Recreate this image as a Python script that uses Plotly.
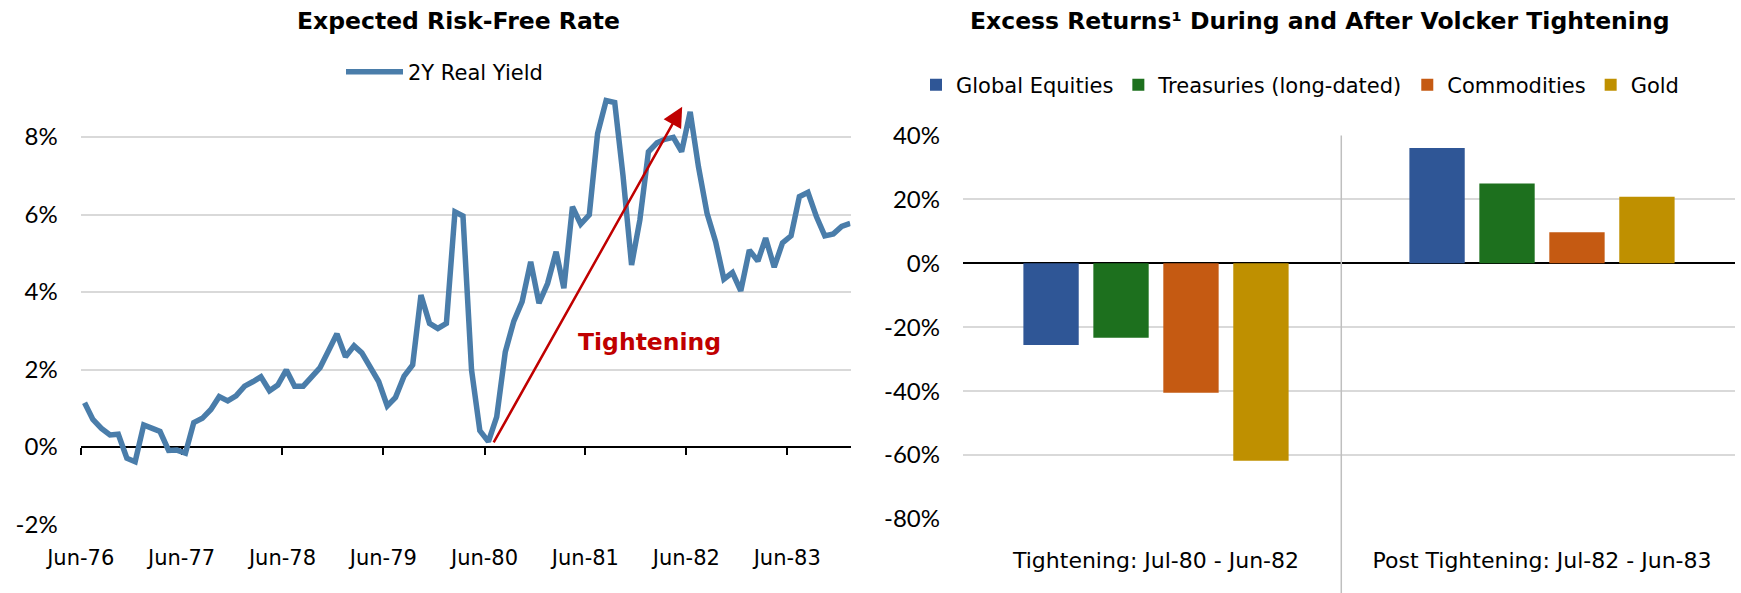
import plotly.graph_objects as go

# ---------------- data ----------------
months = [f"{y}-{m:02d}-15" for y in range(1976, 1985) for m in range(1, 13)]
dates = [d for d in months if "1976-06-15" <= d <= "1984-01-15"]

real_yield = [
    1.14, 0.71, 0.48, 0.31, 0.33, -0.29, -0.38,                               # Jun-Dec 1976
    0.57, 0.48, 0.40, -0.09, -0.08, -0.16, 0.63, 0.74, 0.97, 1.30, 1.19, 1.32,  # 1977
    1.57, 1.69, 1.81, 1.45, 1.60, 1.99, 1.57, 1.57, 1.80, 2.05, 2.49, 2.92,     # 1978
    2.33, 2.61, 2.43, 2.03, 1.69, 1.06, 1.28, 1.83, 2.12, 3.92, 3.19, 3.06,     # 1979
    3.19, 6.07, 5.96, 1.99, 0.42, 0.14, 0.78, 2.45, 3.25, 3.75, 4.78, 3.71,     # 1980
    4.22, 5.04, 4.10, 6.20, 5.75, 5.99, 8.09, 8.94, 8.89, 7.00, 4.70, 5.86,     # 1981
    7.62, 7.85, 7.94, 7.99, 7.62, 8.65, 7.23, 6.03, 5.30, 4.33, 4.50, 4.03,     # 1982
    5.08, 4.80, 5.39, 4.64, 5.27, 5.45, 6.46, 6.57, 5.94, 5.45, 5.50, 5.69,     # 1983
    5.77,                                                                       # Jan 1984
]

x_tick_dates = [f"{y}-06-01" for y in range(1976, 1984)]
x_tick_labels = [f"Jun-{str(y)[2:]}" for y in range(1976, 1984)]
left_y_ticks = [-2, 0, 2, 4, 6, 8]
left_y_labels = [f"{v}%" for v in left_y_ticks]

# Tightening arrow (start / end)
arrow_start = ("1980-07-01", 0.08)
arrow_end = ("1982-05-17", 8.78)
tight_label = ("1982-01-20", 2.72)

periods = ["Tightening: Jul-80 - Jun-82", "Post Tightening: Jul-82 - Jun-83"]
assets = ["Global Equities", "Treasuries (long-dated)", "Commodities", "Gold"]
global_equities = [-25.6, 36.1]
treasuries = [-23.3, 25.0]
commodities = [-40.5, 9.7]
gold = [-61.8, 20.8]
right_y_ticks = [-80, -60, -40, -20, 0, 20, 40]
right_y_labels = [f"{v}%" for v in right_y_ticks]

colors = ["#2F5696", "#1D701E", "#C55A12", "#BF9000"]
line_color = "#4A7DAA"
grid_color = "#D9D9D9"

W, H = 1741, 593
TXT = "DejaVu Sans"
NUM = "Lato"

fig = go.Figure()

fig.add_trace(go.Scatter(
    x=dates, y=real_yield, mode="lines", name="2Y Real Yield", showlegend=True,
    line=dict(color=line_color, width=5.5), xaxis="x", yaxis="y", legend="legend",
))

for name, vals, c in zip(assets, [global_equities, treasuries, commodities, gold], colors):
    fig.add_trace(go.Bar(
        x=periods, y=vals, name=name, marker=dict(color=c), showlegend=True,
        xaxis="x2", yaxis="y2", legend="legend2",
    ))

fig.update_layout(
    template="none",
    width=W, height=H,
    showlegend=True,
    margin=dict(l=0, r=0, t=0, b=0, autoexpand=False),
    paper_bgcolor="white", plot_bgcolor="white",
    barmode="group", bargap=0.275, bargroupgap=0.209,
    font=dict(family=TXT, color="black"),
    xaxis=dict(
        type="date", domain=[80.7 / W, 850.5 / W],
        range=["1976-06-01", "1984-01-16"],
        anchor="free", position=(H - 447) / H,
        showline=True, linecolor="black", linewidth=2,
        ticks="outside", ticklen=7, tickwidth=1.5, tickcolor="black",
        tickmode="array", tickvals=x_tick_dates, ticktext=x_tick_labels,
        ticklabelstandoff=85, automargin=False,
        tickfont=dict(family=TXT, size=21, color="black"),
        showgrid=False, zeroline=False, layer="below traces",
    ),
    yaxis=dict(
        domain=[(H - 524.5) / H, (H - 90.5) / H], anchor="x",
        range=[-2, 9.2], tickmode="array", tickvals=left_y_ticks, ticktext=left_y_labels,
        showgrid=True, gridcolor=grid_color, gridwidth=2,
        zeroline=False, showline=False, ticks="",
        ticklabelstandoff=22, automargin=False,
        tickfont=dict(family=NUM, size=24, color="black"),
    ),
    xaxis2=dict(
        domain=[963 / W, 1735 / W], anchor="y2",
        showline=False, ticks="", showgrid=False,
        ticklabelstandoff=26, automargin=False,
        tickfont=dict(family=TXT, size=22, color="black"),
    ),
    yaxis2=dict(
        domain=[(H - 518.9) / H, (H - 135.5) / H], anchor="x2",
        range=[-80, 40], tickmode="array", tickvals=right_y_ticks, ticktext=right_y_labels,
        showgrid=True, gridcolor=grid_color, gridwidth=2,
        zeroline=True, zerolinecolor="black", zerolinewidth=2,
        showline=False, ticks="", ticklabelstandoff=22, automargin=False,
        tickfont=dict(family=NUM, size=24, color="black"),
    ),
    legend=dict(
        x=341 / W, y=(H - 72) / H, xanchor="left", yanchor="middle",
        orientation="h", bgcolor="rgba(0,0,0,0)", itemwidth=57,
        font=dict(family=TXT, size=21, color="black"),
    ),
    legend2=dict(
        x=916 / W, y=(H - 85) / H, xanchor="left", yanchor="middle",
        orientation="h", bgcolor="rgba(0,0,0,0)",
        font=dict(family=TXT, size=21, color="black"),
    ),
)

fig.add_shape(type="line", xref="x2", yref="paper", x0=0.48, x1=0.48,
              y0=0, y1=(H - 135.5) / H, line=dict(color="#BFBFBF", width=1.5))

fig.add_annotation(x=458 / W, y=(H - 21) / H, xref="paper", yref="paper",
                   text="<b>Expected Risk-Free Rate</b>", showarrow=False,
                   xanchor="center", yanchor="middle",
                   font=dict(family=TXT, size=23.5, color="black"))
fig.add_annotation(x=1319 / W, y=(H - 21) / H, xref="paper", yref="paper",
                   text="<b>Excess Returns¹ During and After Volcker Tightening</b>",
                   showarrow=False, xanchor="center", yanchor="middle",
                   font=dict(family=TXT, size=23.5, color="black"))

fig.add_annotation(x=arrow_end[0], y=arrow_end[1], ax=arrow_start[0], ay=arrow_start[1],
                   xref="x", yref="y", axref="x", ayref="y", text="",
                   showarrow=True, arrowhead=2, arrowsize=1.6, arrowwidth=2.5,
                   arrowcolor="#C00000", standoff=0, startstandoff=0)
fig.add_annotation(x=tight_label[0], y=tight_label[1], xref="x", yref="y",
                   text="<b>Tightening</b>", showarrow=False,
                   xanchor="center", yanchor="middle",
                   font=dict(family=TXT, size=23.5, color="#C00000"))

fig.write_html("out.html", config={"displayModeBar": False},
               post_script="document.body.style.margin='0px';")
